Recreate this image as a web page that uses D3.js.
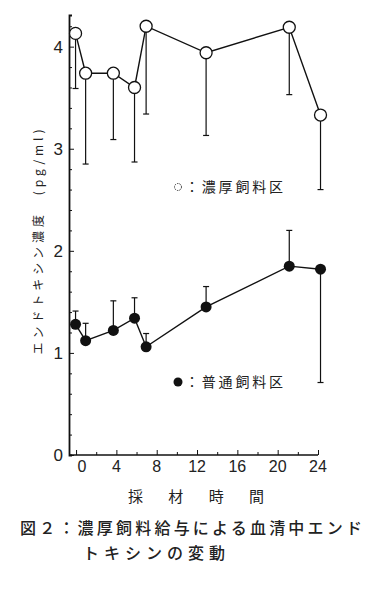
<!DOCTYPE html>
<html>
<head>
<meta charset="utf-8">
<script src="https://cdn.jsdelivr.net/npm/d3@7"></script>
<style>
  html, body { margin: 0; padding: 0; background: #fff; }
  svg { display: block; }
  .num { font-family: "Liberation Sans", Arial, sans-serif; fill: #222; }
  .jp { font-family: "Noto Sans CJK JP", sans-serif; fill: #222; }
</style>
</head>
<body>
<svg id="chart" width="385" height="589"></svg>
<script>
'use strict';

// sampling times (h), shared by both groups
var times = [-0.05, 0.95, 3.7, 5.8, 6.95, 12.9, 21.15, 24.25];

// 濃厚飼料区 (open circles) mean and lower end of error bar
var richMeans = [4.13, 3.74, 3.74, 3.60, 4.20, 3.94, 4.19, 3.33];
var richErrEnd = [3.59, 2.85, 3.09, 2.87, 3.34, 3.13, 3.53, 2.60];

// 普通飼料区 (filled circles) mean and end of error bar
var normMeans = [1.28, 1.12, 1.22, 1.34, 1.06, 1.45, 1.85, 1.82];
var normErrEnd = [1.41, 1.29, 1.51, 1.54, 1.19, 1.65, 2.20, 0.71];

var xTickLabels = [0, 4, 8, 12, 16, 20, 24];
var yTickLabels = [0, 1, 2, 3, 4];

var svg = d3.select('#chart');

var x = d3.scaleLinear().domain([-0.7, 24]).range([69, 318]);
var y = d3.scaleLinear().domain([0, 4.31]).range([455, 15]);

// axes
var yAxis = d3.axisRight(y)
  .tickValues(d3.range(0, 4.31, 0.2))
  .tickSize(3)
  .tickFormat('');
var gy = svg.append('g').attr('transform', 'translate(' + x(-0.7) + ',0)').call(yAxis);
gy.select('.domain').attr('stroke', '#111').attr('stroke-width', 1.8);
gy.selectAll('.tick line').attr('stroke', '#111').attr('stroke-width', 1)
  .attr('x2', function(d) { return Math.abs(d - Math.round(d)) < 1e-6 ? 5 : 3; });

var xAxis = d3.axisTop(x)
  .tickValues(d3.range(0, 25, 2))
  .tickSize(3)
  .tickFormat('');
var gx = svg.append('g').attr('transform', 'translate(0,' + y(0) + ')').call(xAxis);
gx.select('.domain').attr('d', 'M' + x(-0.7) + ',0H' + x(24)).attr('stroke', '#111').attr('stroke-width', 1.4);
gx.selectAll('.tick line').attr('stroke', '#111')
  .attr('y2', function(d) { return d % 4 === 0 ? -5 : -3; });

// tick labels
svg.selectAll('text.ylab').data(yTickLabels).enter().append('text')
  .attr('class', 'num ylab')
  .attr('x', 63).attr('y', function(d) { return y(d) + 6; })
  .attr('text-anchor', 'end').attr('font-size', 17)
  .text(function(d) { return d; });

svg.selectAll('text.xlab').data(xTickLabels).enter().append('text')
  .attr('class', 'num xlab')
  .attr('x', function(d) { return x(d) + (d === 0 ? 6 : 0); }).attr('y', 472)
  .attr('text-anchor', 'middle').attr('font-size', 16)
  .text(function(d) { return d; });

// axis titles
svg.append('text').attr('class', 'jp')
  .attr('transform', 'translate(43,242) rotate(-90)')
  .attr('text-anchor', 'middle').attr('font-size', 12)
  .attr('textLength', 225).attr('lengthAdjust', 'spacing')
  .text('エンドトキシン濃度　(pg/ml)');

svg.append('text').attr('class', 'jp')
  .attr('x', 196).attr('y', 502)
  .attr('text-anchor', 'middle').attr('font-size', 15)
  .attr('textLength', 136).attr('lengthAdjust', 'spacing')
  .text('採　材　時　間');

// error bars
function errorBars(means, ends, cls) {
  var g = svg.append('g').attr('class', cls).attr('stroke', '#111').attr('stroke-width', 1.2);
  g.selectAll('line.bar').data(times).enter().append('line')
    .attr('x1', function(d) { return x(d); }).attr('x2', function(d) { return x(d); })
    .attr('y1', function(d, i) { return y(means[i]); })
    .attr('y2', function(d, i) { return y(ends[i]); });
  g.selectAll('line.cap').data(times).enter().append('line')
    .attr('x1', function(d) { return x(d) - 3; }).attr('x2', function(d) { return x(d) + 3; })
    .attr('y1', function(d, i) { return y(ends[i]); })
    .attr('y2', function(d, i) { return y(ends[i]); });
}
errorBars(richMeans, richErrEnd, 'rich-err');
errorBars(normMeans, normErrEnd, 'norm-err');

// lines
var line = d3.line().x(function(d) { return x(d[0]); }).y(function(d) { return y(d[1]); });
svg.append('path').datum(d3.zip(times, richMeans))
  .attr('d', line).attr('fill', 'none').attr('stroke', '#111').attr('stroke-width', 1.4);
svg.append('path').datum(d3.zip(times, normMeans))
  .attr('d', line).attr('fill', 'none').attr('stroke', '#111').attr('stroke-width', 1.4);

// markers
svg.selectAll('circle.rich').data(d3.zip(times, richMeans)).enter().append('circle')
  .attr('class', 'rich')
  .attr('cx', function(d) { return x(d[0]); }).attr('cy', function(d) { return y(d[1]); })
  .attr('r', 6).attr('fill', '#fff').attr('stroke', '#111').attr('stroke-width', 1.3);
svg.selectAll('circle.norm').data(d3.zip(times, normMeans)).enter().append('circle')
  .attr('class', 'norm')
  .attr('cx', function(d) { return x(d[0]); }).attr('cy', function(d) { return y(d[1]); })
  .attr('r', 5.5).attr('fill', '#111');

// legends
svg.append('circle').attr('cx', 178).attr('cy', 187).attr('r', 3.5)
  .attr('fill', 'none').attr('stroke', '#333').attr('stroke-width', 1).attr('stroke-dasharray', '1.5,1');
svg.append('text').attr('class', 'jp').attr('x', 185).attr('y', 192).attr('font-size', 14)
  .attr('textLength', 98).attr('lengthAdjust', 'spacing').text('：濃厚飼料区');

svg.append('circle').attr('cx', 178).attr('cy', 382).attr('r', 4.5).attr('fill', '#111');
svg.append('text').attr('class', 'jp').attr('x', 185).attr('y', 387).attr('font-size', 14)
  .attr('textLength', 98).attr('lengthAdjust', 'spacing').text('：普通飼料区');

// caption
svg.append('text').attr('class', 'jp').attr('x', 20).attr('y', 534)
  .attr('font-size', 16).attr('font-weight', 500)
  .attr('textLength', 342).attr('lengthAdjust', 'spacing')
  .text('図２：濃厚飼料給与による血清中エンド');
svg.append('text').attr('class', 'jp').attr('x', 83).attr('y', 559)
  .attr('font-size', 16).attr('font-weight', 500)
  .attr('textLength', 142).attr('lengthAdjust', 'spacing')
  .text('トキシンの変動');
</script>
</body>
</html>
